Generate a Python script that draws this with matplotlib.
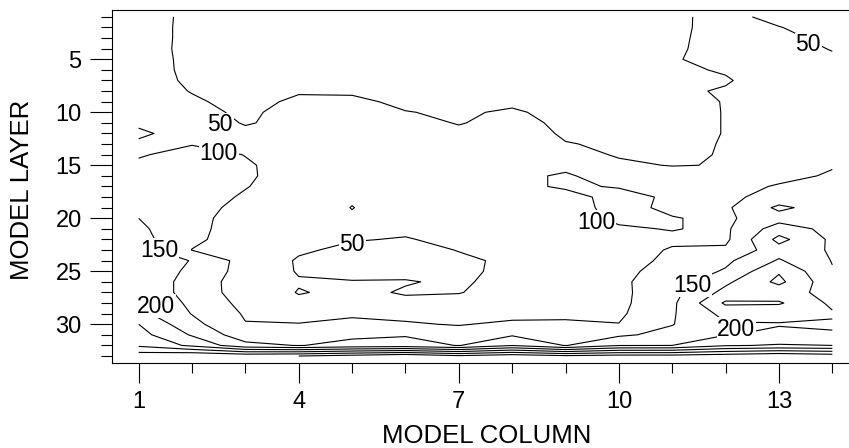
import matplotlib
matplotlib.use("Agg")
import matplotlib.pyplot as plt
from matplotlib.ticker import MultipleLocator, FixedLocator

plt.rcParams['font.family'] = ['Liberation Sans', 'DejaVu Sans']

# === Daten: Werte je Modellschicht (Zeile) und Modellspalte 1..14 ===
columns = list(range(1, 15))
layers = list(range(1, 34))

conc = [
    [65, 42, 40, 30, 28, 28, 28, 30, 30, 30, 45, 58, 42, 35],
    [64, 42, 38, 30, 28, 28, 28, 30, 30, 30, 44, 60, 51, 38],
    [64, 42, 36, 30, 28, 28, 28, 30, 30, 31, 44, 62, 56, 44],
    [63, 42, 35, 31, 29, 28, 28, 32, 31, 32, 45, 62, 58, 49],
    [63, 43, 35, 33, 32, 30, 29, 35, 33, 34, 47, 62, 60, 53],
    [62, 44, 36, 38, 38, 34, 32, 40, 36, 36, 46, 52, 62, 56],
    [61, 46, 38, 44, 44, 40, 36, 44, 39, 38, 45, 48, 62, 58],
    [61, 49, 40, 48, 48, 45, 40, 48, 41, 40, 46, 52, 62, 60],
    [62, 53, 43, 54, 53, 47, 44, 47, 43, 42, 42, 51, 62, 62],
    [66, 55, 47, 56, 58, 50.5, 48, 52, 45, 43, 40, 51, 63, 64],
    [92, 65, 48, 58, 62, 56, 49, 56, 46, 44, 40, 51, 64, 66],
    [108, 80, 56, 62, 66, 62, 54, 62, 47, 45, 40, 51, 66, 70],
    [92, 98, 75, 68, 72, 70, 62, 70, 51, 47, 41, 52, 70, 78],
    [96, 115, 99, 75, 78, 76, 70, 78, 58, 48, 44, 52, 75, 88],
    [108, 118, 104, 85, 82, 80, 75, 85, 90, 54, 49, 51, 80, 96],
    [115, 120, 106, 80, 80, 80, 76, 90, 105, 80, 62, 60, 85, 106],
    [122, 122, 102, 78, 78, 76, 74, 92, 104, 98, 75, 80, 105, 115],
    [130, 120, 95, 72, 53, 70, 70, 90, 90, 110, 95, 88, 120, 122],
    [140, 115, 88, 66, 49.3, 65, 66, 86, 85, 112, 92, 92, 160, 125],
    [150, 110, 85, 63, 53, 60, 64, 80, 82, 108, 102, 92, 130, 130],
    [160, 110, 82, 60, 58, 56, 62, 72, 78, 95, 102, 92, 175, 135],
    [168, 108, 80, 56, 52, 48, 58, 66, 72, 88, 92, 90, 215, 140],
    [175, 99, 80, 55, 42, 40, 51, 62, 68, 80, 104, 108, 180, 145],
    [180, 148, 80, 46, 38, 38, 45, 55, 66, 78, 112, 140, 205, 148],
    [185, 140, 80, 47, 44, 42, 44, 57, 65, 88, 118, 155, 245, 153],
    [188, 130, 75, 53, 51, 52, 45, 62, 66, 92, 125, 190, 262, 165],
    [192, 128, 78, 48, 58, 47, 49, 60, 70, 88, 135, 215, 220, 185],
    [196, 140, 85, 58, 68, 58, 58, 68, 78, 88, 140, 258, 256, 190],
    [215, 148, 95, 82, 95, 92, 75, 90, 92, 92, 145, 215, 212, 205],
    [250, 165, 102, 102, 108, 103, 98, 106, 106, 101, 148, 196, 198, 195],
    [268, 195, 120, 125, 140, 146, 115, 145, 118, 142, 165, 198, 208, 204],
    [292, 240, 165, 148, 165, 170, 148, 198, 148, 198, 200, 245, 255, 250],
    [380, 400, 390, 400, 420, 440, 410, 430, 410, 420, 420, 430, 445, 430],
]

levels = [50, 100, 150, 200, 250, 300, 350, 400, 450]

# Beschriftungen der Isolinien (Text, Spalte, Schicht)
label_text = ['50', '100', '50', '50', '100', '150', '200', '150', '200']
label_col = [2.53, 2.5, 13.55, 5.0, 9.57, 1.39, 1.32, 11.38, 12.2]
label_layer = [11.2, 13.9, 3.65, 22.5, 20.4, 23.0, 28.3, 26.3, 30.5]

# === Plot erstellen ===
fig = plt.figure(figsize=(8.49, 4.48), dpi=100)
ax = fig.add_axes([112 / 849, 1 - 362.7 / 448, 747 / 849, 352.7 / 448])

ax.contour(columns, layers, conc, levels=levels, colors='black', linewidths=0.8)

for txt, cx, cy in zip(label_text, label_col, label_layer):
    ax.text(cx, cy, txt, ha='center', va='center', fontsize=16.5,
            bbox=dict(facecolor='white', edgecolor='none', pad=0.5), zorder=5)

ax.set_xlim(0.5, 14.5)
ax.set_ylim(33.63, 0.35)

ax.xaxis.set_major_locator(FixedLocator([1, 4, 7, 10, 13]))
ax.xaxis.set_minor_locator(MultipleLocator(1))
ax.yaxis.set_major_locator(MultipleLocator(5))
ax.yaxis.set_minor_locator(MultipleLocator(1))

ax.tick_params(axis='x', which='major', direction='out', length=14.4, width=0.8, pad=6, labelsize=17)
ax.tick_params(axis='x', which='minor', direction='out', length=7.2, width=0.8)
ax.tick_params(axis='y', which='major', direction='out', length=15.8, width=0.8, pad=6, labelsize=17)
ax.tick_params(axis='y', which='minor', direction='out', length=8, width=0.8)

for side in ['left', 'bottom', 'top']:
    ax.spines[side].set_linewidth(0.8)
ax.spines['right'].set_visible(False)

fig.text(487 / 849, 1 - 436 / 448, 'MODEL COLUMN', ha='center', va='center', fontsize=18.5)
fig.text(22 / 849, 1 - 190 / 448, 'MODEL LAYER', ha='center', va='center', rotation=90, fontsize=18.5)

fig.savefig('out.png', dpi=100)
